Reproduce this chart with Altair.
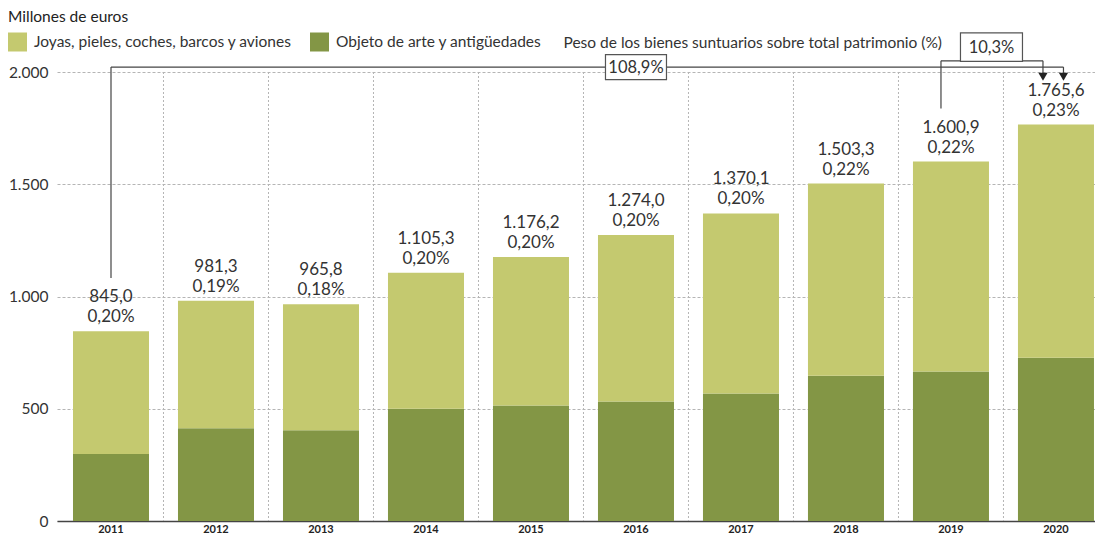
import altair as alt
import pandas as pd

# ---------------- data ----------------
years = ["2011", "2012", "2013", "2014", "2015", "2016", "2017", "2018", "2019", "2020"]
totals = [845.0, 981.3, 965.8, 1105.3, 1176.2, 1274.0, 1370.1, 1503.3, 1600.9, 1765.6]
arte = [298, 413, 404, 500, 514, 532, 568, 647, 666, 727]
pct_labels = ["0,20%", "0,19%", "0,18%", "0,20%", "0,20%", "0,20%", "0,20%", "0,22%", "0,22%", "0,23%"]
cat_joyas = "Joyas, pieles, coches, barcos y aviones"
cat_arte = "Objeto de arte y antigüedades"
categories = [cat_joyas, cat_arte]
colors = ["#c4c96f", "#839645"]
y_ticks = [0, 500, 1000, 1500, 2000]
peso_title = "Peso de los bienes suntuarios sobre total patrimonio (%)"

# annotation values (data units)
br1_from, br1_to, br1_text = "2011", "2020", "108,9%"
br1_low, br1_level = 1082, 2022
br1_box_year = "2016"
br2_from, br2_to, br2_text = "2019", "2020", "10,3%"
br2_low, br2_level, br2_box_level = 1837, 2050, 2111
arrow_top, arrow_tip = 1996, 1979

FONT = "Lato"
TXT = "#333333"


def es(v):
    return f"{v:,.1f}".replace(",", "X").replace(".", ",").replace("X", ".")


rows = []
for yr, t, a in zip(years, totals, arte):
    rows.append({"year": yr, "cat": cat_arte, "value": a, "ord": 0})
    rows.append({"year": yr, "cat": cat_joyas, "value": round(t - a, 1), "ord": 1})
bars_df = pd.DataFrame(rows)

labels_df = pd.DataFrame({
    "year": years,
    "total": totals,
    "tlabel": [es(t) for t in totals],
    "plabel": pct_labels,
})

grid_df = pd.DataFrame({"year": years[:-1]})

x_scale = alt.Scale(domain=years, paddingInner=0.276, paddingOuter=0.081, align=0.94)
y_scale = alt.Scale(domain=[0, 2000], nice=False, zero=True)

X = lambda: alt.X("year:N", scale=x_scale, sort=years)

bars = alt.Chart(bars_df).mark_bar().encode(
    x=alt.X("year:N", scale=x_scale, sort=years,
            axis=alt.Axis(title=None, labelAngle=0, labelAlign="center",
                          domain=True, domainColor="#444444",
                          domainWidth=1.5, ticks=False, grid=False, labelFont=FONT,
                          labelFontSize=11, labelFontWeight="bold", labelColor="#222222",
                          labelPadding=8)),
    y=alt.Y("value:Q", stack="zero", scale=y_scale,
            axis=alt.Axis(title=peso_title, titleAngle=0, titleX=506, titleY=-30,
                          titleAlign="left", titleBaseline="middle", titleFont=FONT,
                          titleFontSize=15.5, titleFontWeight="normal", titleColor=TXT,
                          values=y_ticks, domain=False, ticks=False,
                          grid=True, gridDash=[3, 2], gridColor="#b5b5b5", gridWidth=1,
                          labelFont=FONT, labelFontSize=15.5, labelColor=TXT, labelPadding=9,
                          labelExpr="replace(format(datum.value, ','), ',', '.')")),
    color=alt.Color("cat:N", scale=alt.Scale(domain=categories, range=colors),
                    legend=alt.Legend(title="Millones de euros", orient="none",
                                      legendX=-49, legendY=-62, direction="horizontal",
                                      symbolType="square", symbolSize=361,
                                      symbolStrokeWidth=0, titleFont=FONT,
                                      titleFontSize=15.5, titleFontWeight="normal",
                                      titleColor="#222222", titlePadding=7,
                                      labelFont=FONT, labelFontSize=15.5, labelColor=TXT,
                                      labelOffset=7, columnPadding=18, labelLimit=400,
                                      padding=0)),
    order=alt.Order("ord:Q"),
)

vgrid = alt.Chart(grid_df).mark_rule(xOffset=52.5, color="#b5b5b5", strokeDash=[2, 2],
                                     strokeWidth=1).encode(x=X())

pct_text = alt.Chart(labels_df).mark_text(
    baseline="alphabetic", align="center", dy=-9, font=FONT, fontSize=17, color=TXT
).encode(x=X(), y=alt.Y("total:Q", scale=y_scale), text="plabel:N")

tot_text = alt.Chart(labels_df).mark_text(
    baseline="alphabetic", align="center", dy=-29, font=FONT, fontSize=17, color=TXT
).encode(x=X(), y=alt.Y("total:Q", scale=y_scale), text="tlabel:N")

LINE = "#444444"


def vseg(year, low, high, off):
    d = pd.DataFrame({"year": [year], "lo": [low], "hi": [high]})
    return alt.Chart(d).mark_rule(color=LINE, strokeWidth=1.2, xOffset=off).encode(
        x=X(), y=alt.Y("lo:Q", scale=y_scale), y2="hi:Q")


def hseg(y0, y1, level, off0, off1):
    d = pd.DataFrame({"a": [y0], "b": [y1], "lv": [level]})
    return alt.Chart(d).mark_rule(color=LINE, strokeWidth=1.2, xOffset=off0,
                                  x2Offset=off1).encode(
        x=alt.X("a:N", scale=x_scale), x2="b:N", y=alt.Y("lv:Q", scale=y_scale))


def arrow(year, off):
    d = pd.DataFrame({"year": [year], "v": [arrow_tip]})
    return alt.Chart(d).mark_point(shape="triangle-down", filled=True, size=85,
                                   color="#222222", opacity=1, xOffset=off).encode(
        x=X(), y=alt.Y("v:Q", scale=y_scale))


def box(year, level, text, w, hr, off):
    d = pd.DataFrame({"year": [year], "v": [level], "t": [text]})
    path = f"M-1,-{hr}L1,-{hr}L1,{hr}L-1,{hr}Z"
    b = alt.Chart(d).mark_point(shape=path, size=w * w, filled=True, fill="white",
                                stroke="#555555", strokeWidth=1.2, opacity=1,
                                xOffset=off).encode(x=X(), y=alt.Y("v:Q", scale=y_scale))
    t = alt.Chart(d).mark_text(font=FONT, fontSize=16.5, color=TXT, baseline="middle",
                               align="center", xOffset=off, dy=1).encode(
        x=X(), y=alt.Y("v:Q", scale=y_scale), text="t:N")
    return b + t


ann = (
    vseg(br1_from, br1_low, br1_level, 0)
    + hseg(br1_from, br1_to, br1_level, 0, 7.5)
    + vseg(br1_to, arrow_top, br1_level, 7.5)
    + arrow(br1_to, 7.5)
    + vseg(br2_from, br2_low, br2_level, -10)
    + hseg(br2_from, br2_to, br2_level, -10, -13)
    + vseg(br2_to, arrow_top, br2_level, -13)
    + arrow(br2_to, -13)
    + box(br1_box_year, br1_level, br1_text, 61, 0.41, 0)
    + box(br2_from, br2_box_level, br2_text, 62, 0.46, 40.5)
)

chart = alt.layer(vgrid, bars, pct_text, tot_text, ann).properties(
    width=1038,
    height=449,
    padding={"left": 49, "top": 64, "right": 0, "bottom": 17},
    autosize=alt.AutoSizeParams(type="none"),
).configure_view(stroke=None).resolve_scale(x="shared", y="shared")

chart.save("out.html", embed_options={"renderer": "svg", "actions": False})
